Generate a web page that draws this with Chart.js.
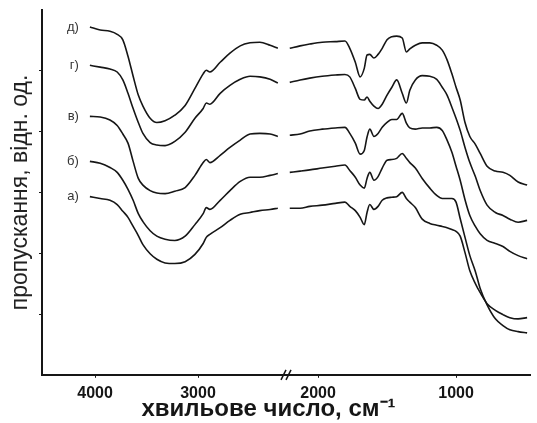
<!DOCTYPE html>
<html>
<head>
<meta charset="utf-8">
<script src="https://cdn.jsdelivr.net/npm/chart.js@4"></script>
<style>
  html, body { margin: 0; padding: 0; background: #ffffff; }
</style>
</head>
<body>
<canvas id="spectra" width="537" height="423"></canvas>
<script>
// =========================================================
// DATA
// IR transmission spectra, five samples (а–д), offset
// vertically. The wavenumber axis is broken near 2200 cm-1,
// so each curve is kept as a left part and a right part.
// =========================================================
const CURVE_LABELS = ["д)", "г)", "в)", "б)", "а)"];

// wavenumbers, cm-1 (left part of the broken axis)
const WN_LEFT = [4050, 3950, 3855, 3785, 3730, 3680, 3630, 3580, 3535, 3465,
  3400, 3320, 3225, 3125, 3030, 2950, 2920, 2885, 2785, 2690,
  2590, 2495, 2400, 2300, 2225];

// wavenumbers, cm-1 (right part of the broken axis)
const WN_RIGHT = [2205, 2130, 2060, 1970, 1875, 1805, 1770, 1730, 1695, 1665,
  1645, 1625, 1595, 1565, 1535, 1500, 1465, 1430, 1390, 1360,
  1335, 1295, 1245, 1190, 1140, 1100, 1065, 1030, 1000, 970,
  935, 900, 860, 825, 775, 715, 660, 610, 550, 485];

// transmission, rel. units (with vertical offset)
const D_LEFT = [5.72, 5.67, 5.65, 5.60, 5.51, 5.24, 4.91, 4.60, 4.42, 4.22,
  4.15, 4.18, 4.27, 4.43, 4.71, 4.95, 5.01, 4.98, 5.14, 5.29,
  5.41, 5.46, 5.47, 5.42, 5.37];
const D_RIGHT = [5.37, 5.41, 5.44, 5.47, 5.48, 5.49, 5.37, 5.14, 4.90, 5.04,
  5.26, 5.27, 5.21, 5.27, 5.37, 5.51, 5.56, 5.57, 5.54, 5.31,
  5.36, 5.42, 5.46, 5.46, 5.42, 5.34, 5.18, 4.95, 4.73, 4.52,
  4.15, 3.92, 3.79, 3.64, 3.43, 3.35, 3.33, 3.28, 3.17, 3.12];

const G_LEFT = [5.09, 5.06, 5.03, 4.98, 4.85, 4.63, 4.38, 4.15, 3.97, 3.82,
  3.78, 3.77, 3.84, 3.99, 4.22, 4.38, 4.47, 4.45, 4.63, 4.76,
  4.86, 4.91, 4.90, 4.86, 4.80];
const G_RIGHT = [4.81, 4.85, 4.88, 4.91, 4.93, 4.94, 4.90, 4.71, 4.53, 4.52,
  4.57, 4.50, 4.42, 4.38, 4.45, 4.60, 4.73, 4.85, 4.63, 4.47,
  4.68, 4.85, 4.92, 4.91, 4.86, 4.73, 4.60, 4.40, 4.22, 4.02,
  3.74, 3.49, 3.26, 3.03, 2.79, 2.67, 2.62, 2.56, 2.51, 2.54];

const V_LEFT = [4.25, 4.24, 4.19, 4.10, 3.96, 3.81, 3.51, 3.23, 3.12, 3.03,
  2.99, 2.98, 3.02, 3.08, 3.28, 3.49, 3.54, 3.49, 3.61, 3.74,
  3.86, 3.96, 3.97, 3.96, 3.92];
const V_RIGHT = [3.94, 3.96, 4.01, 4.04, 4.06, 4.07, 3.97, 3.81, 3.63, 3.69,
  3.91, 4.04, 3.92, 3.97, 4.07, 4.15, 4.20, 4.20, 4.30, 4.14,
  4.06, 4.04, 4.06, 4.06, 4.07, 4.02, 3.86, 3.66, 3.43, 3.20,
  2.88, 2.62, 2.44, 2.32, 2.21, 2.16, 2.11, 2.03, 1.96, 1.91];

const B_LEFT = [3.51, 3.48, 3.41, 3.33, 3.20, 3.05, 2.87, 2.65, 2.52, 2.37,
  2.28, 2.23, 2.21, 2.28, 2.47, 2.65, 2.75, 2.72, 2.87, 3.03,
  3.18, 3.25, 3.25, 3.28, 3.31];
const B_RIGHT = [3.33, 3.35, 3.37, 3.40, 3.43, 3.45, 3.36, 3.25, 3.12, 3.07,
  3.23, 3.33, 3.20, 3.26, 3.40, 3.53, 3.54, 3.56, 3.64, 3.56,
  3.49, 3.40, 3.23, 3.07, 2.95, 2.90, 2.90, 2.90, 2.84, 2.57,
  2.26, 1.96, 1.70, 1.42, 1.15, 0.92, 0.81, 0.74, 0.71, 0.69];

const A_LEFT = [2.93, 2.90, 2.87, 2.80, 2.69, 2.59, 2.44, 2.29, 2.14, 1.99,
  1.90, 1.84, 1.83, 1.86, 1.98, 2.16, 2.26, 2.31, 2.42, 2.54,
  2.64, 2.67, 2.70, 2.72, 2.74];
const A_RIGHT = [2.74, 2.74, 2.77, 2.79, 2.82, 2.84, 2.77, 2.70, 2.59, 2.47,
  2.67, 2.80, 2.72, 2.77, 2.87, 2.91, 2.92, 2.93, 3.00, 2.90,
  2.84, 2.75, 2.56, 2.49, 2.46, 2.44, 2.42, 2.39, 2.36, 2.28,
  2.01, 1.71, 1.50, 1.35, 1.17, 1.06, 0.99, 0.94, 0.92, 0.94];

const LEFT_SERIES = [D_LEFT, G_LEFT, V_LEFT, B_LEFT, A_LEFT];
const RIGHT_SERIES = [D_RIGHT, G_RIGHT, V_RIGHT, B_RIGHT, A_RIGHT];

const LEFT_TICKS = [4000, 3000];
const RIGHT_TICKS = [2000, 1000];

const X_TITLE = "хвильове число, см⁻¹";
const Y_TITLE = "пропускання, відн. од.";

// =========================================================
// STYLE
// =========================================================
const FONT = "'Liberation Sans', Arial, sans-serif";
const INK = "#161616";

// =========================================================
// HELPER: pair wavenumbers with values -> [{x, y}, ...]
// =========================================================
function toPoints(xs, ys) {
  return xs.map((x, i) => ({ x: x, y: ys[i] }));
}

function lineDataset(label, xs, ys, axisId) {
  return {
    label: label,
    data: toPoints(xs, ys),
    xAxisID: axisId,
    yAxisID: "y",
    borderColor: INK,
    borderWidth: 1.6,
    pointRadius: 0,
    fill: false,
    cubicInterpolationMode: "monotone",
  };
}

const datasets = [];
CURVE_LABELS.forEach((label, i) => {
  datasets.push(lineDataset(label, WN_LEFT, LEFT_SERIES[i], "xL"));
  datasets.push(lineDataset(label, WN_RIGHT, RIGHT_SERIES[i], "xR"));
});

// =========================================================
// PLUGIN: letters а)–д) to the left of each curve
// =========================================================
const curveLabelPlugin = {
  id: "curveLabels",
  afterDatasetsDraw(chart) {
    const ctx = chart.ctx;
    const xs = chart.scales.xL;
    const ys = chart.scales.y;
    ctx.save();
    ctx.font = "13px " + FONT;
    ctx.fillStyle = "#333";
    ctx.textAlign = "right";
    ctx.textBaseline = "middle";
    CURVE_LABELS.forEach((label, i) => {
      const px = xs.getPixelForValue(WN_LEFT[0]) - 11;
      const py = ys.getPixelForValue(LEFT_SERIES[i][0]);
      ctx.fillText(label, px, py);
    });
    ctx.restore();
  },
};

// =========================================================
// PLUGIN: the "//" break mark on the x axis
// =========================================================
const breakMarkPlugin = {
  id: "breakMark",
  afterDraw(chart) {
    const ctx = chart.ctx;
    const x = chart.scales.xL.right;
    const y = chart.chartArea.bottom;
    ctx.save();
    ctx.strokeStyle = INK;
    ctx.lineWidth = 1.5;
    [-3, 2].forEach((dx) => {
      ctx.beginPath();
      ctx.moveTo(x + dx - 3, y + 5);
      ctx.lineTo(x + dx + 2, y - 5);
      ctx.stroke();
    });
    ctx.restore();
  },
};

const tickFont = { family: FONT, size: 16, weight: "bold", lineHeight: 0.675 };

function xAxis(min, max, weight, tickValues) {
  return {
    type: "linear",
    position: "bottom",
    stack: "wavenumber",
    stackWeight: weight,
    reverse: true,
    min: min,
    max: max,
    afterBuildTicks: (scale) => {
      scale.ticks = tickValues.map((v) => ({ value: v }));
    },
    ticks: {
      font: tickFont,
      color: INK,
      padding: 10,
      maxRotation: 0,
      autoSkip: false,
      callback: (value) => String(value),
    },
    grid: { drawOnChartArea: false, tickLength: 3, color: INK },
    border: { color: INK, width: 2 },
  };
}

new Chart(document.getElementById("spectra"), {
  type: "line",
  data: { datasets: datasets },
  options: {
    responsive: false,
    animation: false,
    layout: { padding: { left: 7, right: 7, top: 10, bottom: 12 } },
    scales: {
      xL: xAxis(2136, 4515, 245, LEFT_TICKS),
      xR: xAxis(464, 2225, 243, RIGHT_TICKS),
      y: {
        min: 0,
        max: 6,
        afterBuildTicks: (scale) => {
          scale.ticks = [1, 2, 3, 4, 5].map((v) => ({ value: v }));
        },
        ticks: { display: false },
        grid: { drawOnChartArea: false, tickLength: 3, color: INK },
        border: { color: INK, width: 2 },
        title: {
          display: true,
          text: Y_TITLE,
          color: "#222",
          font: { family: FONT, size: 23, lineHeight: 1 },
          padding: { top: 2, bottom: 7 },
        },
      },
    },
    plugins: {
      legend: { display: false },
      tooltip: { enabled: false },
      title: {
        display: true,
        position: "bottom",
        text: X_TITLE,
        color: INK,
        font: { family: FONT, size: 24, weight: "bold", lineHeight: 0.1 },
        padding: 0,
      },
    },
  },
  plugins: [curveLabelPlugin, breakMarkPlugin],
});
</script>
</body>
</html>
